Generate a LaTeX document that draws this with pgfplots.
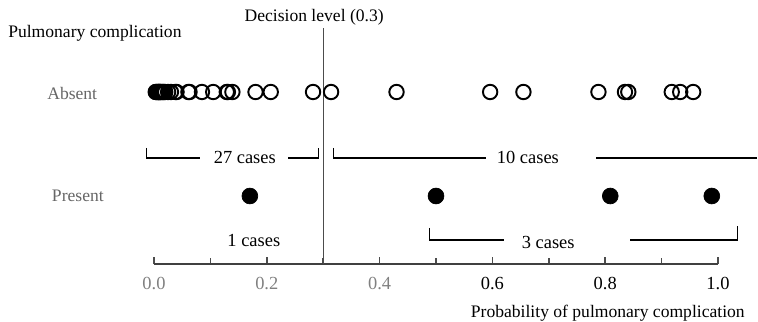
\documentclass[border=0pt]{standalone}
\usepackage{pgfplots}
\pgfplotsset{compat=1.18}
\usepackage{fontspec}
\setmainfont{Liberation Serif}
\begin{document}
\begin{tikzpicture}
\begin{axis}[
  scale only axis,
  width=11.28cm, height=5.28cm,
  xmin=0, xmax=1, ymin=0, ymax=264,
  axis x line*=bottom, axis y line=none,
  axis line style={line width=1.1pt, black!75},
  xtick={0,0.2,0.4,0.6,0.8,1.0},
  xticklabels={\textcolor{black!50}{0.0},\textcolor{black!50}{0.2},\textcolor{black!50}{0.4},0.6,0.8,1.0},
  minor xtick={0.1,0.3,0.5,0.7,0.9},
  tick align=inside,
  major tick length=0.14cm, minor tick length=0.12cm,
  tick style={line width=0.9pt, black!70},
  xticklabel style={font=\fontsize{10.5}{12}\selectfont, yshift=-4pt},
  /pgf/number format/assume math mode=true,
  clip=false,
]
% decision level line
\addplot[black!70, line width=0.7pt] coordinates {(0.3,0) (0.3,236)};
% Absent (open circles)
\addplot[only marks, mark=o, mark size=4.1pt, mark options={line width=1.1pt, black}] coordinates {
(0.003,172) (0.004,172) (0.006,172) (0.007,172) (0.008,172) (0.009,172) (0.010,172)
(0.011,172) (0.012,172) (0.014,172) (0.016,172) (0.018,172) (0.020,172) (0.025,172)
(0.030,172) (0.038,172) (0.040,172) (0.061,172) (0.063,172) (0.085,172) (0.105,172)
(0.129,172) (0.131,172) (0.139,172) (0.180,172) (0.207,172) (0.282,172)
(0.314,172) (0.430,172) (0.596,172) (0.655,172) (0.788,172) (0.835,172) (0.841,172)
(0.918,172) (0.933,172) (0.956,172)
};
% Present (filled)
\addplot[only marks, mark=*, mark size=4.5pt, mark options={black, fill=black}] coordinates {
(0.170,68) (0.500,68) (0.809,68) (0.989,68)
};
% bracket 27 cases
\addplot[black, line width=0.6pt] coordinates {(-0.014,116) (-0.014,106) (0.082,106)};
\addplot[black, line width=0.6pt] coordinates {(0.238,106) (0.291,106) (0.291,116)};
% bracket 10 cases
\addplot[black, line width=0.6pt] coordinates {(0.319,116) (0.319,106) (0.589,106)};
\addplot[black, line width=0.6pt] coordinates {(0.784,106) (1.069,106)};
% bracket 3 cases
\addplot[black, line width=0.6pt] coordinates {(0.489,36) (0.489,24) (0.621,24)};
\addplot[black, line width=0.6pt] coordinates {(0.844,24) (1.034,24) (1.034,38)};
% texts
\node[font=\fontsize{10.5}{12}\selectfont] at (axis cs:0.161,107) {27 cases};
\node[font=\fontsize{10.5}{12}\selectfont] at (axis cs:0.663,107) {10 cases};
\node[font=\fontsize{10.5}{12}\selectfont] at (axis cs:0.177,24) {1 cases};
\node[font=\fontsize{10.5}{12}\selectfont] at (axis cs:0.699,22) {3 cases};
\node[font=\fontsize{10}{12}\selectfont] at (axis cs:0.284,247) {Decision level\ (0.3)};
\node[font=\fontsize{10}{12}\selectfont, anchor=west, inner sep=0pt] at (axis cs:-0.259,231) {Pulmonary complication};
\node[font=\fontsize{10}{12}\selectfont, text=black!60] at (axis cs:-0.145,171) {Absent};
\node[font=\fontsize{10}{12}\selectfont, text=black!60] at (axis cs:-0.135,68) {Present};
\node[font=\fontsize{10}{12}\selectfont, anchor=east, inner sep=0pt] at (axis cs:1.048,-49) {Probability of pulmonary complication};
\end{axis}
\pgfresetboundingbox
\path (-3.08cm,-1.16cm) rectangle (12.08cm,5.28cm);
\end{tikzpicture}
\end{document}
